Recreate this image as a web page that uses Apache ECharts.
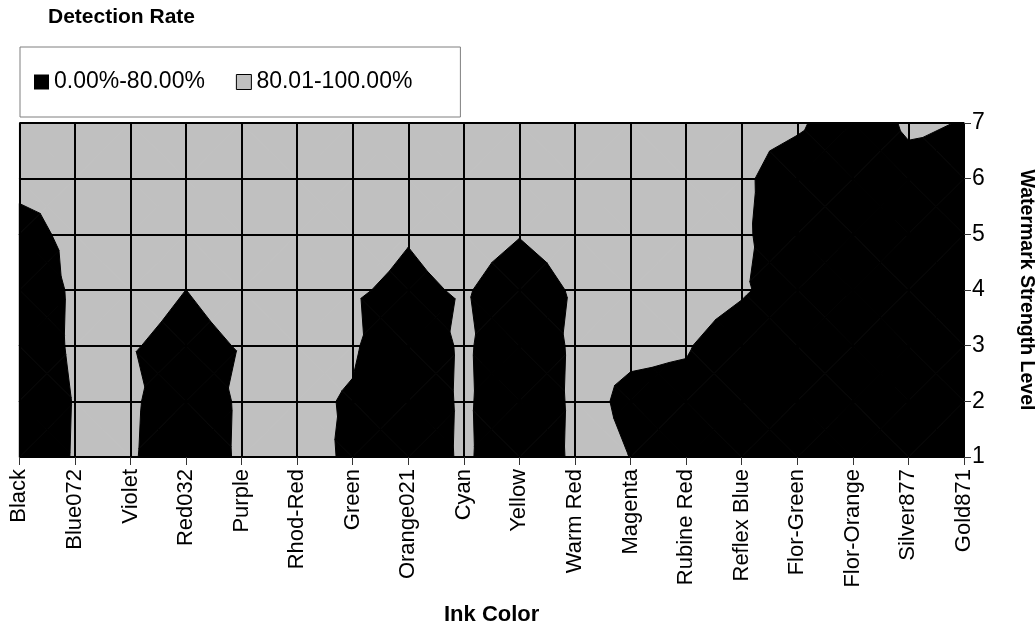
<!DOCTYPE html>
<html>
<head>
<meta charset="utf-8">
<script src="https://cdn.jsdelivr.net/npm/echarts@6/dist/echarts.min.js"></script>
<style>
html,body{margin:0;padding:0;background:#fff;}
#chart{width:1035px;height:625px;}
</style>
</head>
<body>
<div id="chart"></div>
<script>
// ---- data -----------------------------------------------------------
const inkColors = ['Black','Blue072','Violet','Red032','Purple','Rhod-Red','Green','Orange021','Cyan','Yellow','Warm Red','Magenta','Rubine Red','Reflex Blue','Flor-Green','Flor-Orange','Silver877','Gold871'];
const strengthLevels = [1, 2, 3, 4, 5, 6, 7];
const threshold = 80;          // boundary between the two legend bands (%)
const bandLow = '0.00%-80.00%';
const bandHigh = '80.01-100.00%';

// detection rate (%) of each ink at watermark strength levels 1..7
const rateBlack      = [5, 2, 10, 20, 55, 100, 100];
const rateBlue072    = [87.4, 85, 95.4, 93.2, 98, 100, 100];
const rateViolet     = [91.4, 95, 83.75, 100, 100, 100, 100];
const rateRed032     = [10, 20, 65, 79.9, 100, 100, 100];
const ratePurple     = [95.4, 93.2, 83.3, 100, 100, 100, 100];
const rateRhodRed    = [98.7, 92.6, 100, 100, 100, 100, 100];
const rateGreen      = [72, 74.6, 87.5, 85, 100, 100, 100];
const rateOrange021  = [10, 20, 30, 70.3, 82.9, 100, 100];
const rateCyan       = [95.4, 93.2, 91, 85, 100, 100, 100];
const rateYellow     = [10, 20, 30, 54, 82, 100, 100];
const rateWarmRed    = [95.4, 93.2, 91, 85.7, 100, 100, 100];
const rateMagenta    = [79.5, 72.2, 86.9, 100, 100, 100, 100];
const rateRubineRed  = [60, 70, 83, 100, 100, 100, 100];
const rateReflexBlue = [40, 50, 58, 84.8, 90, 95, 100];
const rateFlorGreen  = [10, 20, 30, 58.9, 40, 32.5, 93.4];
const rateFlorOrange = [5, 5, 10, 10, 15, 20, 22.9];
const rateSilver877  = [10, 15, 20, 30, 40, 50.2, 93.4];
const rateGold871    = [5, 10, 15, 20, 30, 50, 76.6];

const rates = [rateBlack, rateBlue072, rateViolet, rateRed032, ratePurple, rateRhodRed,
  rateGreen, rateOrange021, rateCyan, rateYellow, rateWarmRed, rateMagenta,
  rateRubineRed, rateReflexBlue, rateFlorGreen, rateFlorOrange, rateSilver877, rateGold871];

// ---- contour (Excel style: each cell split in 4 triangles around its centre) ----
const cells = [];
for (let i = 0; i < inkColors.length - 1; i++) {
  for (let j = 0; j < strengthLevels.length - 1; j++) {
    for (let k = 0; k < 4; k++) cells.push([i, strengthLevels[j], k, j]);
  }
}

function clipTri(tri, low) {
  const inside = v => low ? v < threshold : v >= threshold;
  const out = [];
  for (let a = 0; a < tri.length; a++) {
    const p1 = tri[a][0], v1 = tri[a][1];
    const p2 = tri[(a + 1) % tri.length][0], v2 = tri[(a + 1) % tri.length][1];
    const in1 = inside(v1), in2 = inside(v2);
    if (in1) out.push(p1);
    if (in1 !== in2) {
      const t = (threshold - v1) / (v2 - v1);
      out.push([p1[0] + t * (p2[0] - p1[0]), p1[1] + t * (p2[1] - p1[1])]);
    }
  }
  return out;
}

function makeRender(low, color) {
  return function (params, api) {
    const i = api.value(0), k = api.value(2), j = api.value(3);
    const corners = [[i, j], [i + 1, j], [i + 1, j + 1], [i, j + 1]];
    const pts = corners.map(c => api.coord([c[0], strengthLevels[c[1]]]));
    const vals = corners.map(c => rates[c[0]][c[1]]);
    const cp = [(pts[0][0] + pts[2][0]) / 2, (pts[0][1] + pts[2][1]) / 2];
    const cv = (vals[0] + vals[1] + vals[2] + vals[3]) / 4;
    const tri = [[pts[k], vals[k]], [pts[(k + 1) % 4], vals[(k + 1) % 4]], [cp, cv]];
    const poly = clipTri(tri, low);
    if (poly.length < 3) return null;
    return {
      type: 'polygon',
      shape: { points: poly },
      style: { fill: color, stroke: color, lineWidth: 1 }
    };
  };
}

const FONT = '"Liberation Sans", Arial, Helvetica, sans-serif';
const chart = echarts.init(document.getElementById('chart'), null, { renderer: 'canvas' });
chart.setOption({
  animation: false,
  backgroundColor: '#ffffff',
  textStyle: { fontFamily: FONT, color: '#000' },
  title: {
    text: 'Detection Rate',
    left: 48, top: 7, padding: 0,
    textStyle: { fontFamily: FONT, fontSize: 21, fontWeight: 'bold', color: '#000' }
  },
  legend: {
    left: 20, top: 47,
    padding: [23, 48, 23, 14],
    borderColor: '#7f7f7f', borderWidth: 1,
    itemWidth: 15, itemHeight: 15, itemGap: 31,
    selectedMode: false,
    textStyle: { fontFamily: FONT, fontSize: 23, color: '#000', lineHeight: 24 },
    data: [
      { name: bandLow, icon: 'rect', itemStyle: { color: '#000000' } },
      { name: bandHigh, icon: 'rect', itemStyle: { color: '#c0c0c0', borderColor: '#000', borderWidth: 1 } }
    ]
  },
  grid: { left: 19.3, right: 71, top: 123, bottom: 168, containLabel: false, outerBoundsMode: 'none' },
  xAxis: {
    type: 'category',
    data: inkColors,
    boundaryGap: false,
    z: 10,
    axisLine: { show: true, lineStyle: { color: '#000', width: 1 } },
    axisTick: { show: true, interval: 0, length: 8, lineStyle: { color: '#333', width: 1 } },
    axisLabel: { interval: 0, rotate: 90, fontSize: 22, margin: 12, color: '#000', fontFamily: FONT },
    splitLine: { show: true, interval: 0, lineStyle: { color: '#000', width: 2 } },
    name: 'Ink Color', nameLocation: 'middle', nameGap: 147,
    nameTextStyle: { fontFamily: FONT, fontSize: 22, fontWeight: 'bold', color: '#000' }
  },
  yAxis: {
    type: 'value',
    position: 'right',
    min: 1, max: 7, interval: 1,
    z: 10,
    axisLine: { show: true, lineStyle: { color: '#000', width: 1 } },
    axisTick: { show: true, length: 7, lineStyle: { color: '#333', width: 1 } },
    axisLabel: { fontSize: 23, margin: 8, color: '#000', fontFamily: FONT },
    splitLine: { show: true, lineStyle: { color: '#000', width: 2 } },
    name: 'Watermark Strength Level', nameLocation: 'middle', nameRotate: -90, nameGap: 52,
    nameTextStyle: { fontFamily: FONT, fontSize: 19.5, fontWeight: 'bold', color: '#000' }
  },
  series: [
    {
      name: bandHigh, type: 'custom', silent: true,
      itemStyle: { color: '#c0c0c0' },
      encode: { x: 0, y: 1 },
      renderItem: makeRender(false, '#c0c0c0'),
      data: cells
    },
    {
      name: bandLow, type: 'custom', silent: true,
      itemStyle: { color: '#000000' },
      encode: { x: 0, y: 1 },
      renderItem: makeRender(true, '#000000'),
      data: cells
    }
  ]
});
</script>
</body>
</html>
